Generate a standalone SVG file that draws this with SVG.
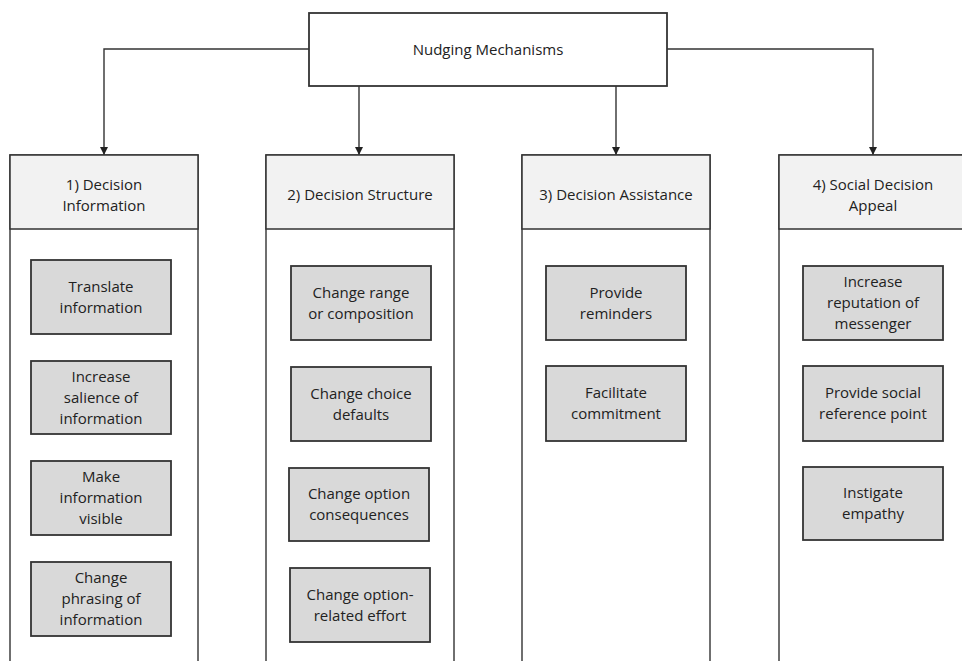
<svg xmlns="http://www.w3.org/2000/svg" width="962" height="661" viewBox="0 0 962 661">
<defs>
<style>
text{font-family:"Open Sans","Noto Sans",sans-serif;font-size:15px;fill:#222;text-anchor:middle}
.col{fill:#fff;stroke:#404040;stroke-width:1.5}
.hdr{fill:#f2f2f2;stroke:#333;stroke-width:1.5}
.item{fill:#d9d9d9;stroke:#333;stroke-width:1.8}
.top{fill:#fff;stroke:#333;stroke-width:1.8}
.conn{fill:none;stroke:#333;stroke-width:1.4}
</style>
<marker id="ah" viewBox="0 0 10 10" refX="10" refY="5" markerWidth="8" markerHeight="8" markerUnits="userSpaceOnUse" orient="auto">
<path d="M0,0L10,5L0,10z" fill="#222"/>
</marker>
</defs>
<rect width="962" height="661" fill="#fff"/>
<g id="connectors">
<path class="conn" d="M309,49H104V155" marker-end="url(#ah)"/>
<path class="conn" d="M359,86V155" marker-end="url(#ah)"/>
<path class="conn" d="M616,86V155" marker-end="url(#ah)"/>
<path class="conn" d="M667,49H873V155" marker-end="url(#ah)"/>
</g>
<g id="root">
<rect class="top" x="309" y="13" width="358" height="73"/>
<text x="488" y="55">Nudging Mechanisms</text>
</g>
<g id="col1">
<rect class="col" x="10" y="155" width="188" height="530"/>
<rect class="hdr" x="10" y="155" width="188" height="74"/>
<text x="104" y="190">1) Decision</text>
<text x="104" y="211">Information</text>
</g>
<g id="col2">
<rect class="col" x="266" y="155" width="188" height="530"/>
<rect class="hdr" x="266" y="155" width="188" height="74"/>
<text x="360" y="200">2) Decision Structure</text>
</g>
<g id="col3">
<rect class="col" x="522" y="155" width="188" height="530"/>
<rect class="hdr" x="522" y="155" width="188" height="74"/>
<text x="616" y="200">3) Decision Assistance</text>
</g>
<g id="col4">
<rect class="col" x="779" y="155" width="188" height="530"/>
<rect class="hdr" x="779" y="155" width="188" height="74"/>
<text x="873" y="190">4) Social Decision</text>
<text x="873" y="211">Appeal</text>
</g>
<g id="c1i1"><rect class="item" x="31" y="260" width="140" height="74"/><text x="101" y="292">Translate</text><text x="101" y="313">information</text></g>
<g id="c1i2"><rect class="item" x="31" y="361" width="140" height="73"/><text x="101" y="382">Increase</text><text x="101" y="403">salience of</text><text x="101" y="424">information</text></g>
<g id="c1i3"><rect class="item" x="31" y="461" width="140" height="74"/><text x="101" y="482">Make</text><text x="101" y="503">information</text><text x="101" y="524">visible</text></g>
<g id="c1i4"><rect class="item" x="31" y="562" width="140" height="74"/><text x="101" y="583">Change</text><text x="101" y="604">phrasing of</text><text x="101" y="625">information</text></g>
<g id="c2i1"><rect class="item" x="291" y="266" width="140" height="74"/><text x="361" y="298">Change range</text><text x="361" y="319">or composition</text></g>
<g id="c2i2"><rect class="item" x="291" y="367" width="140" height="74"/><text x="361" y="399">Change choice</text><text x="361" y="420">defaults</text></g>
<g id="c2i3"><rect class="item" x="289" y="468" width="140" height="73"/><text x="359" y="499">Change option</text><text x="359" y="520">consequences</text></g>
<g id="c2i4"><rect class="item" x="290" y="568" width="140" height="74"/><text x="360" y="600">Change option-</text><text x="360" y="621">related effort</text></g>
<g id="c3i1"><rect class="item" x="546" y="266" width="140" height="74"/><text x="616" y="298">Provide</text><text x="616" y="319">reminders</text></g>
<g id="c3i2"><rect class="item" x="546" y="366" width="140" height="75"/><text x="616" y="398">Facilitate</text><text x="616" y="419">commitment</text></g>
<g id="c4i1"><rect class="item" x="803" y="266" width="140" height="74"/><text x="873" y="287">Increase</text><text x="873" y="308">reputation of</text><text x="873" y="329">messenger</text></g>
<g id="c4i2"><rect class="item" x="803" y="366" width="140" height="75"/><text x="873" y="398">Provide social</text><text x="873" y="419">reference point</text></g>
<g id="c4i3"><rect class="item" x="803" y="467" width="140" height="73"/><text x="873" y="498">Instigate</text><text x="873" y="519">empathy</text></g>
</svg>
